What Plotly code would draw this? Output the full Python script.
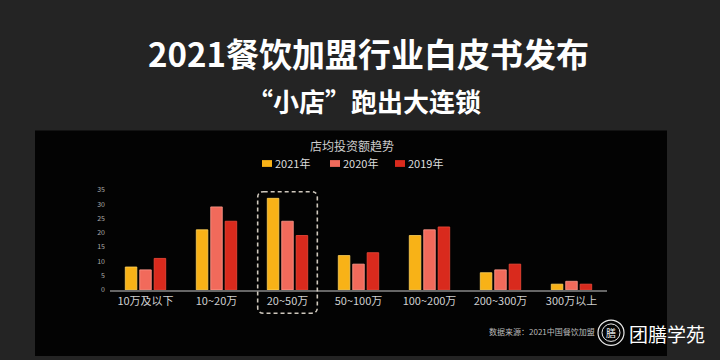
import plotly.graph_objects as go

categories = ["10万及以下", "10~20万", "20~50万", "50~100万", "100~200万", "200~300万", "300万以上"]
series_names = ["2021年", "2020年", "2019年"]
values_2021 = [8, 21, 32, 12, 19, 6, 2]
values_2020 = [7, 29, 24, 9, 21, 7, 3]
values_2019 = [11, 24, 19, 13, 22, 9, 2]
y_ticks = [0, 5, 10, 15, 20, 25, 30, 35]

colors = ["#F8B217", "#F16A5B", "#D92A1D"]
edge_colors = ["#FFD25A", "#FF9A8C", "#F04A3A"]

W, H = 720, 360
FONT = "Noto Sans CJK SC"

fig = go.Figure()
x_idx = list(range(len(categories)))
for name, vals, c, ec in zip(series_names, [values_2021, values_2020, values_2019], colors, edge_colors):
    fig.add_trace(go.Bar(
        x=x_idx, y=vals, name=name,
        marker=dict(color=c, line=dict(color=ec, width=0.8)),
        hoverinfo="skip",
    ))

def px(x):
    return x / W

def py(y):
    return 1 - y / H

fig.update_layout(
    width=W, height=H,
    margin=dict(l=0, r=0, t=0, b=0),
    paper_bgcolor="#242424",
    plot_bgcolor="rgba(0,0,0,0)",
    barmode="group",
    bargap=0.39,
    bargroupgap=0.2,
    font=dict(family=FONT, color="#dddddd"),
    showlegend=False,
    xaxis=dict(
        domain=[px(110), px(607)],
        range=[-0.5, 6.5],
        tickmode="array", tickvals=x_idx, ticktext=categories,
        tickfont=dict(size=11, color="#d0d0d0", family=FONT),
        showline=True, linecolor="#666666", linewidth=1.5,
        showgrid=False, zeroline=False, ticks="",
        anchor="y", fixedrange=True,
    ),
    yaxis=dict(
        domain=[py(292), py(189)],
        range=[0, 35],
        tickmode="array", tickvals=y_ticks,
        tickfont=dict(size=7, color="#aaaaaa", family=FONT),
        showgrid=False, zeroline=False, showline=False, ticks="",
        ticklabelstandoff=4, fixedrange=True,
    ),
)

# black chart panel
fig.add_shape(type="rect", xref="paper", yref="paper",
              x0=px(35), x1=px(667), y0=0, y1=py(128),
              fillcolor="#030303", line=dict(width=0), layer="below")

# legend (swatches + labels)
legend_x = [262, 330, 395]
for lx, name, c in zip(legend_x, series_names, colors):
    fig.add_shape(type="rect", xref="paper", yref="paper",
                  x0=px(lx), x1=px(lx + 10), y0=py(165.5), y1=py(158.5),
                  fillcolor=c, line=dict(width=0))
    fig.add_annotation(xref="paper", yref="paper", showarrow=False,
                       x=px(lx + 11), y=py(162), xanchor="left", yanchor="middle",
                       text=name, font=dict(size=11, color="#dddddd", family=FONT))

# dashed rounded highlight box around 20~50万
hx0, hx1 = 2 - 0.42, 2 + 0.42
hy0, hy1 = py(316), py(191)
rx, ry = 6 / 71, 6 / H
path = (f"M {hx0 + rx},{hy1} L {hx1 - rx},{hy1} Q {hx1},{hy1} {hx1},{hy1 - ry} "
        f"L {hx1},{hy0 + ry} Q {hx1},{hy0} {hx1 - rx},{hy0} "
        f"L {hx0 + rx},{hy0} Q {hx0},{hy0} {hx0},{hy0 + ry} "
        f"L {hx0},{hy1 - ry} Q {hx0},{hy1} {hx0 + rx},{hy1} Z")
fig.add_shape(type="path", xref="x", yref="paper", path=path,
              line=dict(color="#cfc8bd", width=1.6, dash="4px,3px"), layer="above")

# logo circles
cx, cy, r = 611, 336, 13
fig.add_shape(type="circle", xref="paper", yref="paper",
              x0=px(cx - r), x1=px(cx + r), y0=py(cy + r), y1=py(cy - r),
              line=dict(color="#e8e8e8", width=1.2), fillcolor="#050505")
r2 = 9
fig.add_shape(type="circle", xref="paper", yref="paper",
              x0=px(cx - r2), x1=px(cx + r2), y0=py(cy + r2), y1=py(cy - r2),
              line=dict(color="#e8e8e8", width=1))

annotations = [
    dict(text="<b>2021餐饮加盟行业白皮书发布</b>", x=px(368), y=py(48),
         font=dict(size=33, color="#ffffff", family=FONT)),
    dict(text="<b>“小店”跑出大连锁</b>", x=px(364), y=py(97),
         font=dict(size=26, color="#ffffff", family=FONT)),
    dict(text="店均投资额趋势", x=px(352), y=py(143),
         font=dict(size=12, color="#cccccc", family=FONT)),
    dict(text="数据来源：2021中国餐饮加盟", x=px(597), y=py(335), xanchor="right",
         font=dict(size=8, color="#bbbbbb", family=FONT)),
    dict(text="膳", x=px(cx), y=py(cy),
         font=dict(size=10, color="#f0f0f0", family=FONT)),
    dict(text="团膳学苑", x=px(667), y=py(337),
         font=dict(size=19, color="#ffffff", family=FONT)),
]
for a in annotations:
    a.setdefault("xanchor", "center")
    fig.add_annotation(xref="paper", yref="paper", showarrow=False, yanchor="middle", **a)

fig.write_html("out.html", config={"displayModeBar": False},
               post_script="document.body.style.margin='0';document.body.style.background='#242424';")
